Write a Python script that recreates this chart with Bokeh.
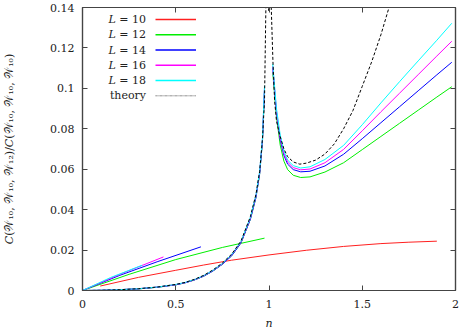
import numpy as np
from bokeh.plotting import figure
from bokeh.models import LinearAxis, FixedTicker, Range1d, Label, BoxAnnotation
from bokeh.embed import file_html
from bokeh.resources import INLINE

# ---------------- data ----------------
# theory curve (black dashed)
n_th = [0.0, 0.1, 0.2, 0.3, 0.4, 0.5, 0.55, 0.6, 0.65, 0.7, 0.75, 0.8, 0.85, 0.9, 0.93,
        0.95, 0.965, 0.976, 0.984, 0.99, 0.998, 1.004, 1.012, 1.021, 1.03, 1.04, 1.056,
        1.08, 1.1, 1.13, 1.165, 1.2, 1.25, 1.3, 1.35, 1.4, 1.45, 1.5, 1.55, 1.6, 1.65]
c_th = [0.0, 0.0001, 0.0004, 0.0009, 0.0017, 0.0030, 0.0040, 0.0055, 0.0075, 0.0102, 0.0136,
        0.0180, 0.0245, 0.0365, 0.0475, 0.0590, 0.0750, 0.0940, 0.145, 0.3, 0.1385, 0.3,
        0.140, 0.1137, 0.0939, 0.0840, 0.0774, 0.0700, 0.0662, 0.0636, 0.0625, 0.0630,
        0.0645, 0.0675, 0.0725, 0.0800, 0.0890, 0.1010, 0.1130, 0.1265, 0.1420]

# straight low-n branches
lin_n_10 = [0.095, 0.3, 0.5, 0.65, 0.8, 1.0, 1.2, 1.4, 1.6, 1.75, 1.9]
lin_c_10 = [0.0022, 0.0065, 0.0100, 0.0126, 0.0150, 0.0176, 0.0199, 0.0218, 0.0232, 0.0239, 0.0244]
lin_n_12 = [0.0, 0.25, 0.5, 0.75, 0.976]
lin_c_12 = [0.0, 0.0080, 0.0153, 0.0213, 0.0259]
lin_n_14 = [0.0, 0.2, 0.4, 0.635]
lin_c_14 = [0.0, 0.0075, 0.0142, 0.0216]
lin_n_16 = [0.0, 0.2, 0.434]
lin_c_16 = [0.0, 0.0080, 0.0166]
lin_n_18 = [0.0, 0.15, 0.32]
lin_c_18 = [0.0, 0.0064, 0.0125]

# branch following the theory for n < 1
n_low = [0.0, 0.1, 0.2, 0.3, 0.4, 0.5, 0.55, 0.6, 0.65, 0.7, 0.75, 0.8, 0.85, 0.9, 0.93, 0.95, 0.965, 0.976]
low_12 = [0.0, 0.0001, 0.0004, 0.0008, 0.0016, 0.0028, 0.0038, 0.0052, 0.0071, 0.0097, 0.0130, 0.0172, 0.0236, 0.0352, 0.0460, 0.0578, 0.0740, 0.0990]
low_14 = [0.0, 0.0001, 0.0004, 0.0008, 0.0016, 0.0028, 0.0038, 0.0052, 0.0071, 0.0097, 0.0130, 0.0172, 0.0236, 0.0352, 0.0460, 0.0578, 0.0740, 0.0995]
low_16 = [0.0, 0.0001, 0.0004, 0.0009, 0.0017, 0.0029, 0.0039, 0.0053, 0.0073, 0.0099, 0.0132, 0.0176, 0.0240, 0.0358, 0.0468, 0.0585, 0.0750, 0.1005]
low_18 = [0.0, 0.0001, 0.0004, 0.0009, 0.0017, 0.0030, 0.0040, 0.0054, 0.0074, 0.0100, 0.0134, 0.0178, 0.0243, 0.0362, 0.0472, 0.0590, 0.0755, 0.1013]

# branch for n > 1
n_hi = [1.02, 1.04, 1.06, 1.08, 1.10, 1.13, 1.17, 1.22, 1.3, 1.4, 1.5, 1.6, 1.7, 1.8, 1.9, 1.98]
hi_12 = [0.108, 0.086, 0.072, 0.064, 0.0598, 0.0570, 0.0559, 0.0562, 0.0586, 0.0632, 0.0697, 0.0762, 0.0827, 0.0892, 0.0957, 0.1008]
hi_14 = [0.110, 0.088, 0.0745, 0.0668, 0.0625, 0.0598, 0.0587, 0.0590, 0.0616, 0.0674, 0.0751, 0.0830, 0.0909, 0.0988, 0.1067, 0.1129]
hi_16 = [0.111, 0.089, 0.0755, 0.0678, 0.0635, 0.0608, 0.0597, 0.0601, 0.0632, 0.0698, 0.0790, 0.0884, 0.0976, 0.1068, 0.1160, 0.1233]
hi_18 = [0.112, 0.090, 0.0770, 0.0690, 0.0645, 0.0618, 0.0606, 0.0612, 0.0648, 0.0718, 0.0820, 0.0928, 0.1033, 0.1136, 0.1238, 0.1322]

x_ticks = [0, 0.5, 1, 1.5, 2]
x_tick_labels = ["0", "0.5", "1", "1.5", "2"]
y_ticks = [0, 0.02, 0.04, 0.06, 0.08, 0.1, 0.12, 0.14]
y_tick_labels = ["0", "0.02", "0.04", "0.06", "0.08", "0.1", "0.12", "0.14"]

labels = ["𝐿 = 10", "𝐿 = 12", "𝐿 = 14", "𝐿 = 16", "𝐿 = 18", "theory"]
colors = ["#ff2020", "#00ee00", "#0000ff", "#ff00ff", "#00ffff", "#000000"]


def join(*parts):
    xs, ys = [], []
    for i, (px, py) in enumerate(parts):
        if i:
            xs.append(np.nan)
            ys.append(np.nan)
        xs += list(px)
        ys += list(py)
    return xs, ys


series = [
    join((lin_n_10, lin_c_10)),
    join((lin_n_12, lin_c_12), (n_low, low_12), (n_hi, hi_12)),
    join((lin_n_14, lin_c_14), (n_low, low_14), (n_hi, hi_14)),
    join((lin_n_16, lin_c_16), (n_low, low_16), (n_hi, hi_16)),
    join((lin_n_18, lin_c_18), (n_low, low_18), (n_hi, hi_18)),
]

FONT = "DejaVu Serif"
FS = "11px"
AX = "#444444"
TXT = "#222222"

W, H = 460, 332
TOP, BOTTOM, LEFT, RIGHT = 7, 42, 80, 5

p = figure(width=W, height=H, output_backend="svg", toolbar_location=None,
           x_range=Range1d(0, 2), y_range=Range1d(0, 0.14),
           min_border_left=LEFT, min_border_right=RIGHT, min_border_top=TOP, min_border_bottom=BOTTOM)
p.xgrid.visible = False
p.ygrid.visible = False
p.outline_line_color = AX
p.outline_line_width = 1.2
p.background_fill_color = "white"
p.border_fill_color = "white"

for ax, ticks, labs in ((p.xaxis[0], x_ticks, x_tick_labels), (p.yaxis[0], y_ticks, y_tick_labels)):
    ax.ticker = FixedTicker(ticks=ticks)
    ax.major_label_overrides = {t: l for t, l in zip(ticks, labs)}
    ax.major_tick_in = 5
    ax.major_tick_out = 0
    ax.minor_tick_in = 0
    ax.minor_tick_out = 0
    ax.axis_line_color = AX
    ax.axis_line_width = 1.2
    ax.major_tick_line_color = AX
    ax.major_label_text_font = FONT
    ax.major_label_text_font_size = FS
    ax.major_label_text_color = TXT
    ax.axis_label_text_font = FONT
    ax.axis_label_text_font_size = FS
    ax.axis_label_text_font_style = "normal"
    ax.axis_label_text_color = TXT

p.xaxis[0].major_label_standoff = 9
p.yaxis[0].major_label_standoff = 8
p.xaxis[0].axis_label = "𝑛"
p.xaxis[0].axis_label_standoff = 6
p.yaxis[0].axis_label = "𝐶(𝒲₁₀, 𝒲₁₀, 𝒲₁₂)/𝐶(𝒲₁₀, 𝒲₁₀, 𝒲₁₀)"
p.yaxis[0].axis_label_standoff = 31

# mirrored ticks on top and right (no labels)
for loc, ticks in (("right", y_ticks), ("above", x_ticks)):
    a = LinearAxis(ticker=FixedTicker(ticks=ticks), major_label_text_font_size="1px",
                   major_label_text_color=None, major_label_text_alpha=0,
                   major_label_standoff=0, major_tick_in=5, major_tick_out=0,
                   minor_tick_in=0, minor_tick_out=0, axis_line_color=AX,
                   axis_line_width=1.2, major_tick_line_color=AX)
    p.add_layout(a, loc)

for (xs, ys), col in zip(series, colors[:5]):
    p.line(xs, ys, line_color=col, line_width=1)
p.line(n_th, c_th, line_color="#000000", line_width=1, line_dash="3 2")

# gnuplot-style key: text right-aligned, sample on the right (screen units from frame)
row_off = [12.0, 27.3, 42.5, 57.8, 73.0, 88.3]
frame_h = H - TOP - BOTTOM
entries = list(zip(labels, colors, row_off))
for lab, col, off in reversed(entries):
    yy = frame_h - off
    if lab == "theory":
        box = BoxAnnotation(left=73, right=113.5, top=yy, bottom=yy,
                            fill_color=None, line_color=col, line_width=1, line_dash="3 2")
    else:
        box = BoxAnnotation(left=73, right=113.5, top=yy + 0.75, bottom=yy - 0.75,
                            fill_color=col, fill_alpha=1.0, line_color=None,
                            hover_fill_color=col, hover_line_color=None)
    for side in ("left_units", "right_units", "top_units", "bottom_units"):
        setattr(box, side, "screen")
    p.add_layout(box)
for lab, col, off in entries:
    yy = frame_h - off
    p.add_layout(Label(x=63.5, y=yy, x_units="screen", y_units="screen", text=lab,
                       text_align="right", text_baseline="middle", text_font=FONT,
                       text_font_size=FS, text_color=TXT))

open("out.html", "w").write(file_html(p, INLINE))
